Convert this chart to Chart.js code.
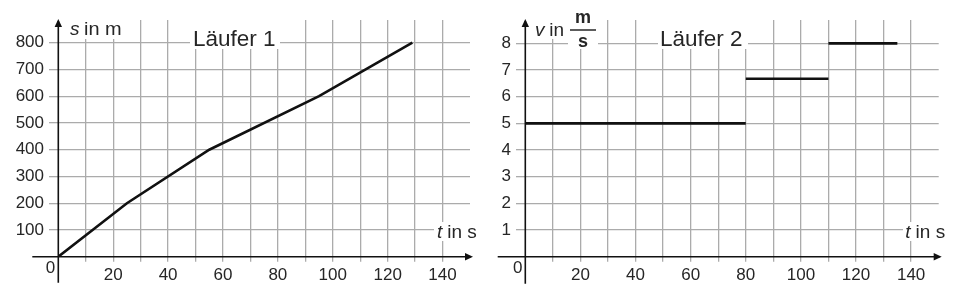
<!DOCTYPE html>
<html>
<head>
    <title>Läufer 1 und Läufer 2</title>
    <style>
        body { margin: 0; background: #fff; }
        .box { position: absolute; top: 0; width: 478px; height: 295px; }
        #boxLeft { left: 0; }
        #boxRight { left: 478px; }
    </style>
    <script src="https://cdn.jsdelivr.net/npm/chart.js"></script>
</head>
<body>

    <div class="box" id="boxLeft"><canvas id="chartLeft"></canvas></div>
    <div class="box" id="boxRight"><canvas id="chartRight"></canvas></div>

    <script>
        // Läufer 1: Weg s (m) zur Zeit t (s)
        const timesL1 = [0, 25, 55, 95, 129];
        const distL1 = [0, 200, 400, 600, 800];

        // Läufer 2: Geschwindigkeit v (m/s) in Abschnitten
        const segStartL2 = [0, 80, 110];
        const segEndL2 = [80, 110, 135];
        const speedL2 = [5, 6.67, 8];

        // Beschriftete Ticks
        const xTickLabels = [20, 40, 60, 80, 100, 120, 140];
        const yTicksL1 = [100, 200, 300, 400, 500, 600, 700, 800];
        const yTicksL2 = [1, 2, 3, 4, 5, 6, 7, 8];

        const FONT = "'Liberation Sans', Arial, sans-serif";
        const INK = '#262626';
        const GRID = '#ababab';

        // Texte und weiße Hinterlegungen (Canvas-Koordinaten)
        const decoById = {
            chartLeft: {
                axisLeft: 26, axisDown: 26,
                boxes: [[67, 18, 57, 21], [190, 20, 90, 29], [434, 222, 44, 19]],
                texts: [
                    ['s', 70, 35, 19, 'italic'], [' in m', 78.5, 35, 19, '', 'left', 1.05],
                    ['Läufer 1', 193, 46, 22.5],
                    ['t', 437, 238, 19, 'italic'], [' in s', 442, 238, 19],
                    ['0', 50.5, 273, 17, '', 'center']
                ],
                frac: null
            },
            chartRight: {
                axisLeft: 27.6, axisDown: 27,
                boxes: [[54, 18, 38, 21], [90, 8, 30, 41], [180, 20, 90, 29], [425, 222, 44, 19]],
                texts: [
                    ['v', 57, 36, 19, 'italic'], [' in', 66, 36, 19],
                    ['m', 105, 23, 18, 'bold', 'center'], ['s', 105, 46.5, 18, 'bold', 'center'],
                    ['Läufer 2', 182, 46, 22.5],
                    ['t', 427.3, 238, 19, 'italic'], [' in s', 432.3, 238, 19],
                    ['0', 39.7, 273, 17, '', 'center']
                ],
                frac: [92, 118, 30]
            }
        };

        const deco = {
            id: 'deco',
            beforeDatasetsDraw(chart) {
                const d = decoById[chart.canvas.id];
                const ctx = chart.ctx;
                ctx.save();
                ctx.fillStyle = '#fff';
                d.boxes.forEach(b => ctx.fillRect(b[0], b[1], b[2], b[3]));
                ctx.restore();
            },
            afterDraw(chart) {
                const d = decoById[chart.canvas.id];
                const ctx = chart.ctx;
                const a = chart.chartArea;
                const x0 = chart.scales.x.getPixelForValue(0);
                const y0 = chart.scales.y.getPixelForValue(0);
                ctx.save();
                ctx.strokeStyle = '#111';
                ctx.fillStyle = '#111';
                ctx.lineWidth = 1.6;

                // x-Achse mit Pfeil
                const xTip = a.right + 3;
                ctx.beginPath();
                ctx.moveTo(x0 - d.axisLeft, y0);
                ctx.lineTo(xTip - 2, y0);
                ctx.stroke();
                ctx.beginPath();
                ctx.moveTo(xTip, y0);
                ctx.lineTo(xTip - 8, y0 - 3.7);
                ctx.lineTo(xTip - 8, y0 + 3.7);
                ctx.closePath();
                ctx.fill();

                // y-Achse mit Pfeil
                const yTip = a.top - 1;
                ctx.beginPath();
                ctx.moveTo(x0, y0 + d.axisDown);
                ctx.lineTo(x0, yTip + 2);
                ctx.stroke();
                ctx.beginPath();
                ctx.moveTo(x0, yTip);
                ctx.lineTo(x0 - 3.7, yTip + 8);
                ctx.lineTo(x0 + 3.7, yTip + 8);
                ctx.closePath();
                ctx.fill();

                // Texte
                ctx.fillStyle = INK;
                ctx.textBaseline = 'alphabetic';
                d.texts.forEach(t => {
                    ctx.save();
                    ctx.font = (t[4] || '') + ' ' + t[3] + 'px ' + FONT;
                    ctx.textAlign = t[5] || 'left';
                    ctx.translate(t[1], t[2]);
                    ctx.scale(t[6] || 1, 1);
                    ctx.fillText(t[0], 0, 0);
                    ctx.restore();
                });
                if (d.frac) {
                    ctx.strokeStyle = INK;
                    ctx.lineWidth = 1.5;
                    ctx.beginPath();
                    ctx.moveTo(d.frac[0], d.frac[2]);
                    ctx.lineTo(d.frac[1], d.frac[2]);
                    ctx.stroke();
                }
                ctx.restore();
            }
        };

        function makeChart(id, datasets, yMax, yLabels, yWidth, padRight) {
            const ctx = document.getElementById(id).getContext('2d');
            return new Chart(ctx, {
                type: 'line',
                data: { datasets: datasets },
                options: {
                    responsive: true,
                    maintainAspectRatio: false,
                    animation: false,
                    events: [],
                    layout: { padding: { top: 20, right: padRight, bottom: 0, left: 0 } },
                    plugins: {
                        legend: { display: false },
                        tooltip: { enabled: false }
                    },
                    elements: {
                        point: { radius: 0 },
                        line: { borderColor: '#111', borderWidth: 2.6, tension: 0, borderCapStyle: 'butt' }
                    },
                    scales: {
                        x: {
                            type: 'linear',
                            min: 0,
                            max: 150,
                            afterFit: s => { s.height = 295 - 256.7; },
                            border: { display: false },
                            grid: {
                                color: c => (c.tick.value > 0 && c.tick.value < 150) ? GRID : 'rgba(0,0,0,0)',
                                lineWidth: 1.3,
                                tickLength: 5
                            },
                            ticks: {
                                stepSize: 10,
                                includeBounds: false,
                                maxRotation: 0,
                                autoSkip: false,
                                padding: 3,
                                color: INK,
                                font: { family: FONT, size: 17 },
                                callback: v => xTickLabels.includes(v) ? String(v) : ''
                            }
                        },
                        y: {
                            type: 'linear',
                            min: 0,
                            max: yMax,
                            afterFit: s => { s.width = yWidth; },
                            border: { display: false },
                            grid: {
                                color: c => c.tick.value > 0 ? GRID : 'rgba(0,0,0,0)',
                                lineWidth: 1.3,
                                tickLength: 9.3
                            },
                            ticks: {
                                stepSize: yLabels[0],
                                includeBounds: false,
                                autoSkip: false,
                                padding: 5,
                                color: INK,
                                font: { family: FONT, size: 17 },
                                callback: v => yLabels.includes(v) ? String(v) : ''
                            }
                        }
                    }
                },
                plugins: [deco]
            });
        }

        // Läufer 1
        makeChart('chartLeft', [{
            data: timesL1.map((t, i) => ({ x: t, y: distL1[i] }))
        }], 885, yTicksL1, 58.3, 8);

        // Läufer 2
        makeChart('chartRight', speedL2.map((v, i) => ({
            data: [{ x: segStartL2[i], y: v }, { x: segEndL2[i], y: v }]
        })), 8.875, yTicksL2, 47.3, 17.3);
    </script>

</body>
</html>
